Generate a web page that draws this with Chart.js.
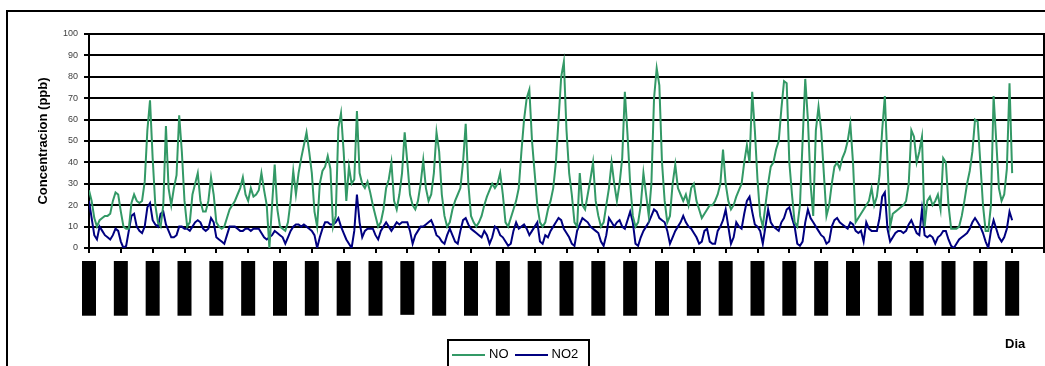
<!DOCTYPE html>
<html>
<head>
<title>NO y NO2</title>
<script src="https://cdn.jsdelivr.net/npm/chart.js"></script>
<style>
    body { margin: 0; background: #fff; font-family: "Liberation Sans", Arial, sans-serif; }
    #wrap { position: relative; width: 1045px; height: 366px; overflow: hidden; }
    #frame { position: absolute; left: 6px; top: 10px; width: 1100px; height: 400px; border: 2px solid #000; box-sizing: border-box; }
    #chart { position: absolute; left: 0; top: 0; }
    #dia { position: absolute; left: 1005px; top: 336px; font-weight: bold; font-size: 13px; }
    #legend { position: absolute; left: 447px; top: 339px; width: 143px; height: 40px; border: 2px solid #000; box-sizing: border-box; padding: 5px 0 0 3px; font-size: 13px; white-space: nowrap; }
    #legend .item { display: inline-block; margin-right: 6px; }
    #legend .line { display: inline-block; width: 33px; height: 2px; vertical-align: middle; margin-right: 4px; }
</style>
</head>
<body>
<div id="wrap">
    <div id="frame"></div>
    <canvas id="chart" width="1045" height="366"></canvas>
    <div id="legend"></div>
    <div id="dia">Dia</div>
</div>
<script>
    // hourly averages sampled every 2 hours, one row per day
    const samplesPerDay = 12;
    const dayLabels = [];
    for (let d = 1; d <= 30; d++) {
        dayLabels.push(String(d).padStart(2, '0') + '/09/04');
    }

    const noValues = [
        27,22,14,10,13,14,15,15,16,22,26,25,
        17,10,9,9,21,25,22,21,22,31,55,69,
        42,20,12,10,20,57,28,20,28,34,62,45,
        22,10,12,25,30,35,22,17,17,22,33,25,
        12,10,9,10,14,18,20,22,25,28,33,25,
        22,28,24,25,27,35,27,20,0,20,39,18,
        10,9,8,12,22,36,25,35,42,48,54,45,
        35,17,10,30,36,38,43,37,10,15,56,63,
        45,22,38,30,32,64,35,30,28,31,26,20,
        15,10,12,18,28,32,40,22,18,25,35,54,
        40,25,20,18,22,30,41,28,22,25,35,54,
        45,25,15,10,12,18,22,25,28,40,58,30,
        15,12,10,12,15,20,24,27,30,28,30,35,
        25,12,10,14,18,22,28,45,60,70,74,50,
        35,20,12,10,12,18,22,28,40,60,80,87,
        55,35,25,12,10,35,20,18,25,32,40,22,
        15,10,12,20,28,40,30,22,30,42,73,53,
        30,15,10,12,20,35,25,15,30,70,84,76,
        40,22,12,15,30,39,28,25,22,25,20,28,
        30,22,18,14,16,18,20,20,22,25,30,46,
        30,22,18,20,24,27,30,40,48,40,73,55,
        32,15,10,20,30,38,40,46,50,65,78,77,
        40,25,12,10,20,50,79,60,30,15,55,66,
        55,35,15,20,30,38,40,37,42,45,50,58,
        40,12,14,16,18,20,22,28,20,24,34,55,
        71,40,10,16,17,18,19,20,22,30,55,52,
        40,45,52,10,22,24,20,22,25,18,42,40,
        20,9,9,9,10,15,22,30,36,45,60,59,
        40,20,8,8,20,71,50,28,22,25,37,77,
        35
    ];

    const no2Values = [
        22,14,6,4,10,8,6,5,4,6,9,8,
        3,0,1,8,15,16,10,8,7,10,19,21,
        13,11,10,16,17,11,8,5,5,6,10,10,
        9,9,8,10,12,13,12,9,8,9,14,12,
        5,4,3,2,6,10,10,10,9,8,8,9,
        9,8,9,9,9,7,5,4,5,6,8,7,
        6,5,2,5,8,10,11,11,10,11,10,9,
        8,6,0,5,9,12,12,11,11,12,14,10,
        7,4,2,0,8,25,12,5,8,9,9,9,
        6,4,8,10,12,10,8,10,12,11,12,12,
        12,8,2,6,8,10,10,11,12,13,10,6,
        5,3,2,6,9,6,3,2,8,13,14,11,
        9,8,7,6,5,8,6,2,5,10,9,6,
        5,3,1,2,8,12,9,10,11,9,6,8,
        10,12,3,2,6,5,8,10,12,14,13,9,
        7,5,2,1,8,11,14,13,12,10,9,8,
        7,3,1,6,14,12,10,12,13,10,9,13,
        17,12,2,1,5,8,10,12,15,18,17,14,
        13,12,8,2,5,8,10,12,15,12,10,9,
        7,5,2,3,8,9,3,2,2,8,10,13,
        18,10,2,5,12,10,9,16,22,24,17,11,
        10,8,2,10,18,12,10,9,8,12,14,18,
        19,14,10,2,1,3,12,18,14,12,10,8,
        6,5,2,3,10,13,14,12,11,10,9,12,
        11,8,7,8,3,12,9,8,8,8,14,24,
        26,9,3,5,7,8,8,7,8,11,13,10,
        7,6,18,6,5,6,5,2,5,6,8,8,
        4,1,0,2,4,5,6,7,9,12,14,12,
        10,7,3,0,8,13,9,5,3,5,9,17,
        13
    ];

    const toPoints = values => values.map((v, i) => ({ x: i / samplesPerDay, y: v }));

    Chart.defaults.font.family = "'Liberation Sans', Arial, sans-serif";

    const ctx = document.getElementById('chart').getContext('2d');
    const chart = new Chart(ctx, {
        type: 'line',
        data: {
            datasets: [
                { label: 'NO', data: toPoints(noValues), borderColor: '#339966', backgroundColor: '#339966', borderWidth: 2, pointRadius: 0 },
                { label: 'NO2', data: toPoints(no2Values), borderColor: '#000080', backgroundColor: '#000080', borderWidth: 2, pointRadius: 0 }
            ]
        },
        options: {
            responsive: false,
            animation: false,
            layout: { padding: { left: 0, right: 0, top: 34, bottom: 0 } },
            plugins: { legend: { display: false }, tooltip: { enabled: false } },
            scales: {
                x: {
                    type: 'linear',
                    min: 0,
                    max: 30,
                    afterFit: scale => {
                        scale.height = 118;
                        scale.paddingLeft = 0;
                        scale.paddingRight = 0;
                    },
                    grid: { drawOnChartArea: false, drawTicks: true, tickLength: 5, color: '#000', lineWidth: 2 },
                    border: { color: '#000', width: 2 },
                    ticks: {
                        stepSize: 1,
                        autoSkip: false,
                        minRotation: 90,
                        maxRotation: 90,
                        padding: 12,
                        labelOffset: -6,
                        color: '#000',
                        font: { size: 12, lineHeight: 1 },
                        showLabelBackdrop: c => c.index < dayLabels.length,
                        backdropColor: '#000',
                        backdropPadding: { top: 1, bottom: 1, left: 4, right: 4 },
                        callback: (value, index) => dayLabels[index] ?? ''
                    }
                },
                y: {
                    min: 0,
                    max: 100,
                    afterFit: scale => { scale.width = 89; },
                    grid: { color: '#000', lineWidth: 2, tickLength: 5 },
                    border: { color: '#000', width: 2 },
                    ticks: { stepSize: 10, padding: 6, color: '#404040', font: { size: 9 } },
                    title: {
                        display: true,
                        text: 'Concentracion (ppb)',
                        color: '#000',
                        font: { size: 13, weight: 'bold' },
                        padding: { top: 36, bottom: 0 }
                    }
                },
                y2: {
                    position: 'right',
                    min: 0,
                    max: 100,
                    afterFit: scale => { scale.width = 1; },
                    grid: { display: false },
                    border: { color: '#000', width: 2 },
                    ticks: { display: false }
                }
            }
        }
    });

    // legend drawn in html, line samples taken from the datasets
    const legend = document.getElementById('legend');
    chart.data.datasets.forEach(ds => {
        const item = document.createElement('span');
        item.className = 'item';
        const line = document.createElement('span');
        line.className = 'line';
        line.style.background = ds.borderColor;
        item.appendChild(line);
        item.appendChild(document.createTextNode(ds.label));
        legend.appendChild(item);
    });
</script>
</body>
</html>
